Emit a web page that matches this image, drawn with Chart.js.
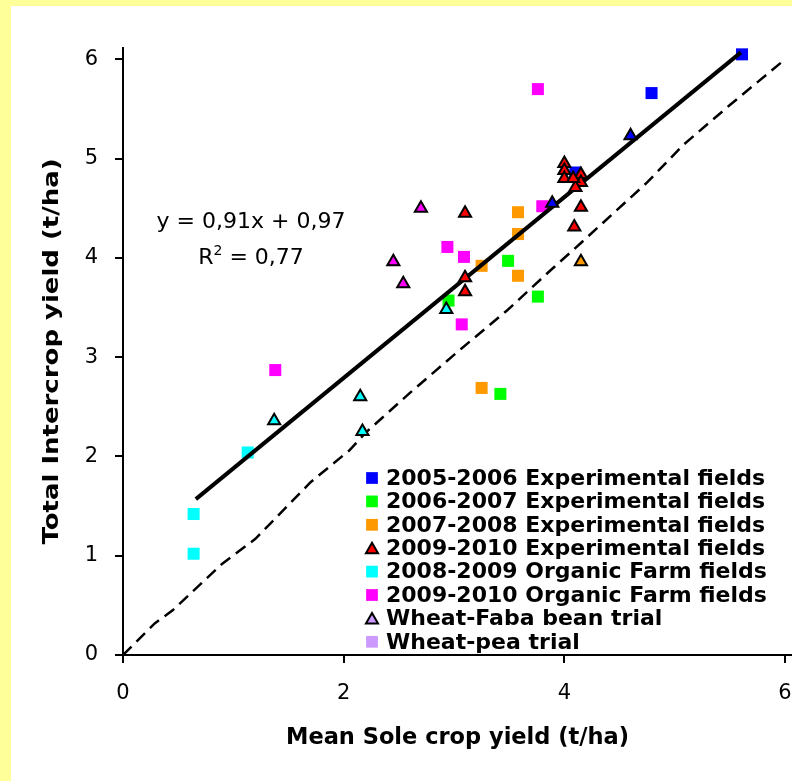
<!DOCTYPE html>
<html>
<head>
<meta charset="utf-8">
<script src="https://cdn.jsdelivr.net/npm/chart.js@4.4.1/dist/chart.umd.min.js"></script>
<style>
  html, body { margin: 0; padding: 0; background: #ffff99; }
  #panel { position: absolute; left: 11px; top: 6px; width: 781px; height: 775px; background: #ffffff; }
</style>
</head>
<body>
<div id="panel"><canvas id="chart"></canvas></div>
<script>
// Values: [mean sole crop yield, total intercrop yield] in t/ha
const exp0506Squares = [[5.61, 6.05], [4.79, 5.66], [4.10, 4.86]];
const exp0506Triangles = [[4.60, 5.23], [3.89, 4.55]];
const exp0607Squares = [[3.49, 3.97], [2.95, 3.57], [3.76, 3.61], [3.42, 2.63]];
const exp0708Squares = [[3.58, 4.46], [3.58, 4.24], [3.25, 3.92], [3.58, 3.82], [3.25, 2.69]];
const exp0708Triangles = [[4.15, 3.96]];
const exp0910Triangles = [[4.00, 4.95], [4.00, 4.88], [4.00, 4.80], [4.15, 4.84], [4.15, 4.76],
  [4.10, 4.71], [4.08, 4.80], [4.15, 4.51], [3.10, 4.45], [4.09, 4.31], [3.10, 3.80], [3.10, 3.66]];
const org0809Squares = [[1.13, 2.04], [0.64, 1.42], [0.64, 1.02]];
const org0809Triangles = [[2.93, 3.48], [2.15, 2.60], [1.37, 2.36], [2.17, 2.25]];
const org0910Squares = [[3.76, 5.70], [3.80, 4.52], [2.94, 4.11], [3.09, 4.01], [3.07, 3.33], [1.38, 2.87]];
const org0910Triangles = [[2.70, 4.50], [2.45, 3.96], [2.54, 3.74]];

// regression line and the 1:1 reference line
const fitX = [0.66, 5.60];
const fitY = [1.57, 6.07];
const oneToOneX = [0, 0.29, 0.45, 0.90, 1.20, 1.70, 2.05, 2.20, 2.60, 3.06, 3.48, 3.87, 4.14, 4.75, 5.08, 5.50, 6.00];
const oneToOneY = [0, 0.32, 0.45, 0.92, 1.17, 1.74, 2.06, 2.24, 2.64, 3.08, 3.47, 3.87, 4.14, 4.76, 5.14, 5.54, 6.00];

const xTicks = [0, 2, 4, 6];
const yTicks = [0, 1, 2, 3, 4, 5, 6];
const equationText = ["y = 0,91x + 0,97", "0,77"];
const xTitle = "Mean Sole crop yield (t/ha)";
const yTitle = "Total Intercrop yield (t/ha)";

const BLUE = "#0000ff", GREEN = "#00ff00", ORANGE = "#ff9900", RED = "#ff0000";
const CYAN = "#00ffff", MAGENTA = "#ff00ff", LAVENDER = "#cc99ff";

const toPoints = arr => arr.map(p => ({ x: p[0], y: p[1] }));
const toLine = (xs, ys) => xs.map((x, i) => ({ x: x, y: ys[i] }));

function squares(label, data, color) {
    return { label, data: toPoints(data), pointStyle: "rect", pointRadius: 8.5,
        backgroundColor: color, borderWidth: 0, order: 3 };
}
function triangles(label, data, color, inLegend) {
    return { label, data: toPoints(data), pointStyle: "triangle", pointRadius: 7,
        backgroundColor: color, borderColor: "#000", borderWidth: 2, order: 1, inLegend };
}

const datasets = [
    squares("2005-2006 Experimental fields", exp0506Squares, BLUE),
    squares("2006-2007 Experimental fields", exp0607Squares, GREEN),
    squares("2007-2008 Experimental fields", exp0708Squares, ORANGE),
    triangles("2009-2010 Experimental fields", exp0910Triangles, RED, true),
    squares("2008-2009 Organic Farm fields", org0809Squares, CYAN),
    squares("2009-2010 Organic Farm fields", org0910Squares, MAGENTA),
    triangles("Wheat-Faba bean trial", [], LAVENDER, true),
    squares("Wheat-pea trial", [], LAVENDER),
    triangles("2005-2006 faba bean", exp0506Triangles, BLUE, false),
    triangles("2007-2008 faba bean", exp0708Triangles, ORANGE, false),
    triangles("2008-2009 organic faba bean", org0809Triangles, CYAN, false),
    triangles("2009-2010 organic faba bean", org0910Triangles, MAGENTA, false),
    { label: "fit", data: toLine(fitX, fitY), showLine: true, pointRadius: 0,
      borderColor: "#000", borderWidth: 4, order: 2, inLegend: false },
    { label: "1:1", data: toLine(oneToOneX, oneToOneY), showLine: true, pointRadius: 0,
      borderColor: "#000", borderWidth: 2.5, borderDash: [12, 7], order: 2, inLegend: false }
];

// equation + R2 written inside the plot
const equationPlugin = {
    id: "equation",
    afterDatasetsDraw(chart) {
        const ctx = chart.ctx;
        const xs = chart.scales.x, ys = chart.scales.y;
        const cx = xs.getPixelForValue(1.16);
        ctx.save();
        ctx.fillStyle = "#000";
        ctx.textBaseline = "alphabetic";
        ctx.font = "22px 'DejaVu Sans'";
        ctx.textAlign = "center";
        ctx.fillText(equationText[0], cx, ys.getPixelForValue(4.30));
        // second line: R² = 0,77
        const y2 = ys.getPixelForValue(3.94);
        const wR = ctx.measureText("R").width;
        const rest = " = " + equationText[1];
        const wRest = ctx.measureText(rest).width;
        ctx.font = "14px 'DejaVu Sans'";
        const wSup = ctx.measureText("2").width;
        const start = cx - (wR + wSup + wRest) / 2;
        ctx.textAlign = "left";
        ctx.font = "22px 'DejaVu Sans'";
        ctx.fillText("R", start, y2);
        ctx.fillText(rest, start + wR + wSup, y2);
        ctx.font = "14px 'DejaVu Sans'";
        ctx.fillText("2", start + wR, y2 - 9);
        ctx.restore();
    }
};

// legend drawn inside the plot area, lower right
const legendPlugin = {
    id: "innerLegend",
    afterDatasetsDraw(chart) {
        const ctx = chart.ctx;
        const area = chart.chartArea;
        const markerX = area.left + 249;
        const textX = area.left + 263;
        let rowY = area.top + 430;
        ctx.save();
        ctx.font = "bold 22px 'DejaVu Sans'";
        ctx.textBaseline = "middle";
        ctx.textAlign = "left";
        chart.data.datasets.forEach(ds => {
            if (ds.inLegend === false) return;
            ctx.fillStyle = ds.backgroundColor;
            ctx.strokeStyle = ds.borderColor || ds.backgroundColor;
            ctx.lineWidth = ds.borderWidth;
            Chart.helpers.drawPoint(ctx, {
                pointStyle: ds.pointStyle,
                radius: ds.pointStyle === "rect" ? 8.3 : 7,
                rotation: 0,
                borderWidth: ds.borderWidth
            }, markerX, ds.pointStyle === "rect" ? rowY : rowY + 1.5);
            ctx.fillStyle = "#000";
            ctx.fillText(ds.label, textX, rowY + 1);
            rowY += 23.4;
        });
        ctx.restore();
    }
};

// vertical axis title, drawn a bit stretched along its length like the original
const yTitlePlugin = {
    id: "yTitle",
    afterDraw(chart) {
        const ctx = chart.ctx;
        const area = chart.chartArea;
        ctx.save();
        ctx.translate(chart.scales.y.left + 41, (area.top + area.bottom) / 2);
        ctx.rotate(-Math.PI / 2);
        ctx.scale(1.18, 1);
        ctx.font = "bold 22px 'DejaVu Sans'";
        ctx.textAlign = "center";
        ctx.textBaseline = "middle";
        ctx.fillStyle = "#000";
        ctx.fillText(yTitle, 0, 0);
        ctx.restore();
    }
};

Chart.defaults.color = "#000";
Chart.defaults.font.family = "'DejaVu Sans'";

new Chart(document.getElementById("chart"), {
    type: "scatter",
    data: { datasets },
    options: {
        responsive: true,
        maintainAspectRatio: false,
        animation: false,
        events: [],
        layout: { padding: { top: 42, right: 0, bottom: 0, left: 0 }, autoPadding: false },
        plugins: { legend: { display: false }, tooltip: { enabled: false } },
        elements: { line: { tension: 0 } },
        scales: {
            x: {
                type: "linear",
                min: 0,
                max: 6.063,
                afterFit(scale) {
                    scale.height = 126;
                    scale.paddingLeft = 0;
                    scale.paddingRight = 0;
                },
                afterBuildTicks(scale) { scale.ticks = xTicks.map(v => ({ value: v })); },
                grid: { drawOnChartArea: false, color: "#000", lineWidth: 2, tickLength: 8 },
                border: { color: "#000", width: 2 },
                ticks: { font: { size: 21 }, padding: 18, maxRotation: 0 },
                title: {
                    display: true,
                    text: xTitle,
                    font: { size: 22.5, weight: "bold" },
                    padding: { top: 0, bottom: 29 }
                }
            },
            y: {
                type: "linear",
                min: 0,
                max: 6.114,
                afterFit(scale) {
                    scale.width = 112;
                    scale.paddingTop = 0;
                    scale.paddingBottom = 0;
                },
                afterBuildTicks(scale) { scale.ticks = yTicks.map(v => ({ value: v })); },
                grid: { drawOnChartArea: false, color: "#000", lineWidth: 2, tickLength: 8 },
                border: { color: "#000", width: 2 },
                ticks: { font: { size: 21 }, padding: 17 },
                title: { display: false }
            }
        }
    },
    plugins: [equationPlugin, legendPlugin, yTitlePlugin]
});
</script>
</body>
</html>
